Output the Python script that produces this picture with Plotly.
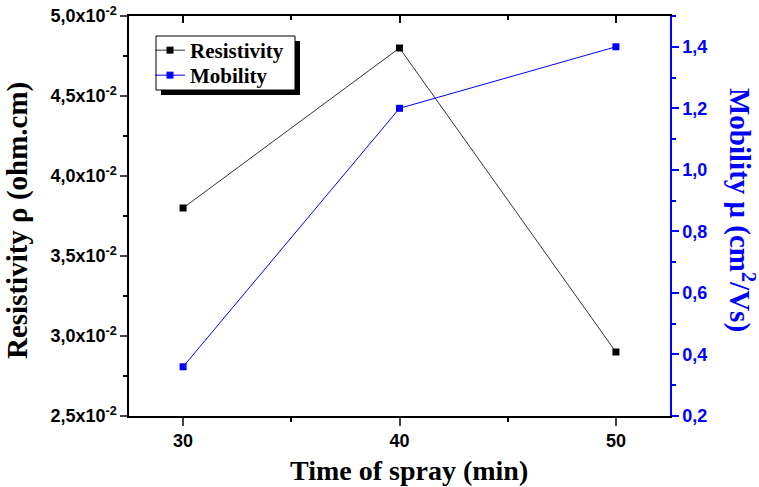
import plotly.graph_objects as go

time_min = [30, 40, 50]
resistivity = [0.038, 0.048, 0.029]
mobility = [0.36, 1.20, 1.40]

left_tickvals = [0.025, 0.030, 0.035, 0.040, 0.045, 0.050]
left_labels = ["2,5", "3,0", "3,5", "4,0", "4,5", "5,0"]
left_minor = [0.0275, 0.0325, 0.0375, 0.0425, 0.0475]
right_tickvals = [0.2, 0.4, 0.6, 0.8, 1.0, 1.2, 1.4]
right_labels = ["0,2", "0,4", "0,6", "0,8", "1,0", "1,2", "1,4"]
right_minor = [0.3, 0.5, 0.7, 0.9, 1.1, 1.3, 1.5]
x_tickvals = [30, 40, 50]
x_labels = ["30", "40", "50"]
x_minor = [35, 45]

TICK_PX = 18


def lbl(s):
    return f'<span style="font-size:{TICK_PX}px"><b>{s}</b></span>'


left_ticktext = [lbl(s + "x10<sup>-2</sup>") for s in left_labels]
right_ticktext = [lbl(s) for s in right_labels]
x_ticktext = [lbl(s) for s in x_labels]

BLUE = "#0000ff"
sans = "Liberation Sans, Arial"
serif = "Liberation Serif, Times New Roman"
tickfont = dict(family=sans, size=TICK_PX, color="black")

W, H = 759, 487
L, R, T, B = 129, 89, 16, 71
pw, ph = W - L - R, H - T - B


def px(x):
    return (x - L) / pw


def py(y):
    return (H - B - y) / ph


fig = go.Figure()
fig.add_trace(go.Scatter(x=time_min, y=resistivity, mode="lines+markers", name="Resistivity",
                         line=dict(color="#333333", width=1), legend="legend",
                         marker=dict(symbol="square", size=7, color="black")))
fig.add_trace(go.Scatter(x=time_min, y=mobility, mode="lines+markers", name="Mobility",
                         yaxis="y2", line=dict(color=BLUE, width=1), legend="legend2",
                         marker=dict(symbol="square", size=7, color=BLUE)))
fig.add_trace(go.Scatter(x=[30], y=[0.03], xaxis="x2", mode="markers",
                         marker=dict(opacity=0), showlegend=False, hoverinfo="skip"))

legend_font = dict(family=serif, size=21, color="black", weight="bold")

fig.update_layout(
    width=W, height=H,
    margin=dict(l=L, r=R, t=T, b=B, autoexpand=False),
    paper_bgcolor="white", plot_bgcolor="white",
    font=dict(family=sans, size=TICK_PX, color="black"),
    xaxis=dict(range=[27.5, 52.5], tickvals=x_tickvals, ticktext=x_ticktext, ticks="outside", ticklen=8,
               tickwidth=1.5, showline=True, linecolor="black", linewidth=1.5, showgrid=False,
               zeroline=False, tickfont=tickfont, automargin=False,
               minor=dict(tickvals=x_minor, ticks="outside", ticklen=4, tickwidth=1.5, tickcolor="black")),
    xaxis2=dict(range=[27.5, 52.5], overlaying="x", side="top", tickvals=x_tickvals, ticks="inside",
                ticklen=7, tickwidth=1.5, tickcolor="black", showticklabels=False, showline=True,
                linecolor="black", linewidth=1.5, showgrid=False, zeroline=False, automargin=False,
                minor=dict(tickvals=x_minor, ticks="inside", ticklen=4, tickwidth=1.5, tickcolor="black")),
    yaxis=dict(range=[0.025, 0.050], tickvals=left_tickvals, ticktext=left_ticktext, ticks="outside",
               ticklen=7, tickwidth=1.5, showline=True, linecolor="black", linewidth=1.5,
               showgrid=False, zeroline=False, tickfont=tickfont, automargin=False,
               minor=dict(tickvals=left_minor, ticks="outside", ticklen=4, tickwidth=1.5, tickcolor="black")),
    yaxis2=dict(range=[0.2, 1.5], overlaying="y", side="right", tickvals=right_tickvals,
                ticktext=right_ticktext, ticks="outside", ticklen=7, tickwidth=1.5, tickcolor=BLUE,
                showline=True, linecolor=BLUE, linewidth=1.5, showgrid=False, zeroline=False,
                tickfont=dict(family=sans, size=TICK_PX, color=BLUE), automargin=False,
                minor=dict(tickvals=right_minor, ticks="outside", ticklen=4, tickwidth=1.5, tickcolor=BLUE)),
    legend=dict(x=px(150), y=py(30), xanchor="left", yanchor="top", bgcolor="rgba(0,0,0,0)",
                borderwidth=0, itemwidth=30, font=legend_font),
    legend2=dict(x=px(150), y=py(55), xanchor="left", yanchor="top", bgcolor="rgba(0,0,0,0)",
                 borderwidth=0, itemwidth=30, font=legend_font),
    showlegend=True,
)

# legend frame with drop shadow
fig.add_shape(type="rect", xref="paper", yref="paper", x0=px(161), x1=px(300), y0=py(95), y1=py(41),
              fillcolor="black", line=dict(width=0), layer="above")
fig.add_shape(type="rect", xref="paper", yref="paper", x0=px(156), x1=px(295), y0=py(90), y1=py(36),
              fillcolor="white", line=dict(color="black", width=1), layer="above")

fig.add_annotation(text="Resistivity ρ (ohm.cm)", xref="paper", yref="paper",
                   x=px(18), y=py(221), xanchor="center", yanchor="middle", textangle=-90, showarrow=False,
                   font=dict(family=serif, size=29, color="black", weight="bold"))
fig.add_annotation(text="Time of spray (min)", xref="paper", yref="paper",
                   x=px(409), y=py(470), xanchor="center", yanchor="middle", showarrow=False,
                   font=dict(family=serif, size=28, color="black", weight="bold"))
fig.add_annotation(text="Mobility μ (cm<sup>2</sup>/Vs)", xref="paper", yref="paper",
                   x=px(742), y=py(210), xanchor="center", yanchor="middle", textangle=90, showarrow=False,
                   font=dict(family=serif, size=29, color=BLUE, weight="bold"))

fig.write_html("out.html")
